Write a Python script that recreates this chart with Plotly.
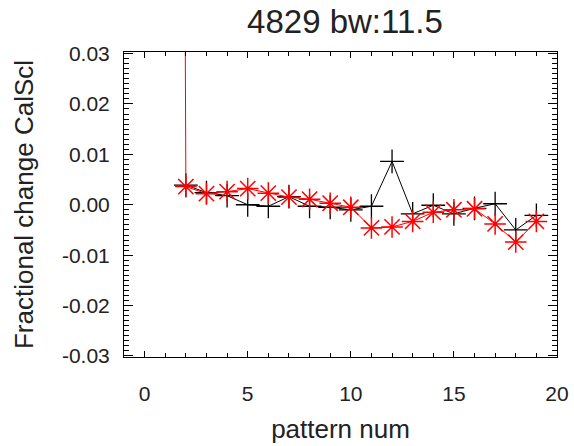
import plotly.graph_objects as go

title_text = "4829 bw:11.5"
x_title = "pattern num"
y_title = "Fractional change CalScl"

black_x = [2, 3, 4, 5, 6, 7, 8, 9, 10, 11, 12, 13, 14, 15, 16, 17, 18, 19]
black_y = [0.0039, 0.0024, 0.0018, 0.0000, -0.0003, 0.0016, -0.0003, -0.0005,
           -0.0010, -0.0003, 0.0086, -0.0018, -0.0001, -0.0018, -0.0007, 0.0002,
           -0.0050, -0.0021]

red_x = [1, 2, 3, 4, 5, 6, 7, 8, 9, 10, 11, 12, 13, 14, 15, 16, 17, 18, 19]
red_y = [1.0, 0.0036, 0.0022, 0.0026, 0.0032, 0.0023, 0.0015, 0.0011, 0.0003,
         -0.0005, -0.0046, -0.0044, -0.0033, -0.0015, -0.0010, -0.0008, -0.0038,
         -0.0074, -0.0033]

x_ticks = [0, 5, 10, 15, 20]
y_ticks = [-0.03, -0.02, -0.01, 0.00, 0.01, 0.02, 0.03]
y_ticklabels = ["-0.03", "-0.02", "-0.01", "0.00", "0.01", "0.02", "0.03"]

font_family = "Liberation Sans, Arial, Helvetica, sans-serif"
text_color = "#222222"

fig = go.Figure()
fig.add_trace(go.Scatter(
    x=black_x, y=black_y, mode="lines+markers",
    line=dict(color="black", width=1),
    marker=dict(symbol="cross-thin", size=17, line=dict(color="black", width=1.3)),
    showlegend=False,
))
fig.add_trace(go.Scatter(
    x=red_x, y=red_y, mode="lines+markers",
    line=dict(color="red", width=1),
    marker=dict(symbol="asterisk-open", size=18, line=dict(color="red", width=1.5)),
    showlegend=False,
))

fig.update_layout(
    width=574, height=446,
    margin=dict(l=124, r=17, t=52, b=89, autoexpand=False),
    paper_bgcolor="white", plot_bgcolor="white",
    font=dict(family=font_family, color=text_color, size=21),
    title=dict(text=title_text, x=0.601, xanchor="center", y=0.952, yanchor="middle",
               font=dict(size=33, color=text_color)),
)
fig.update_xaxes(
    range=[-1, 20], tickvals=x_ticks, ticktext=[str(v) for v in x_ticks],
    showgrid=False, zeroline=False, showline=True, linecolor="black", linewidth=1,
    mirror="ticks", ticks="inside", ticklen=6, tickcolor="black",
    minor=dict(dtick=1, ticks="inside", ticklen=4, tickcolor="black"),
    ticklabelstandoff=18, automargin=False,
    title=dict(text=x_title, font=dict(size=26), standoff=15),
    tickfont=dict(size=21),
)
fig.update_yaxes(
    range=[-0.0302, 0.0303], tickvals=y_ticks, ticktext=y_ticklabels,
    showgrid=False, zeroline=False, showline=True, linecolor="black", linewidth=1,
    mirror="ticks", ticks="inside", ticklen=9, tickcolor="black",
    minor=dict(dtick=0.001, ticks="inside", ticklen=5, tickcolor="black"),
    ticklabelstandoff=9, automargin=False,
    title=dict(text=y_title, font=dict(size=26), standoff=20),
    tickfont=dict(size=21),
)

fig.write_html("out.html", config={"displayModeBar": False},
               post_script="document.body.style.margin='0px';")
